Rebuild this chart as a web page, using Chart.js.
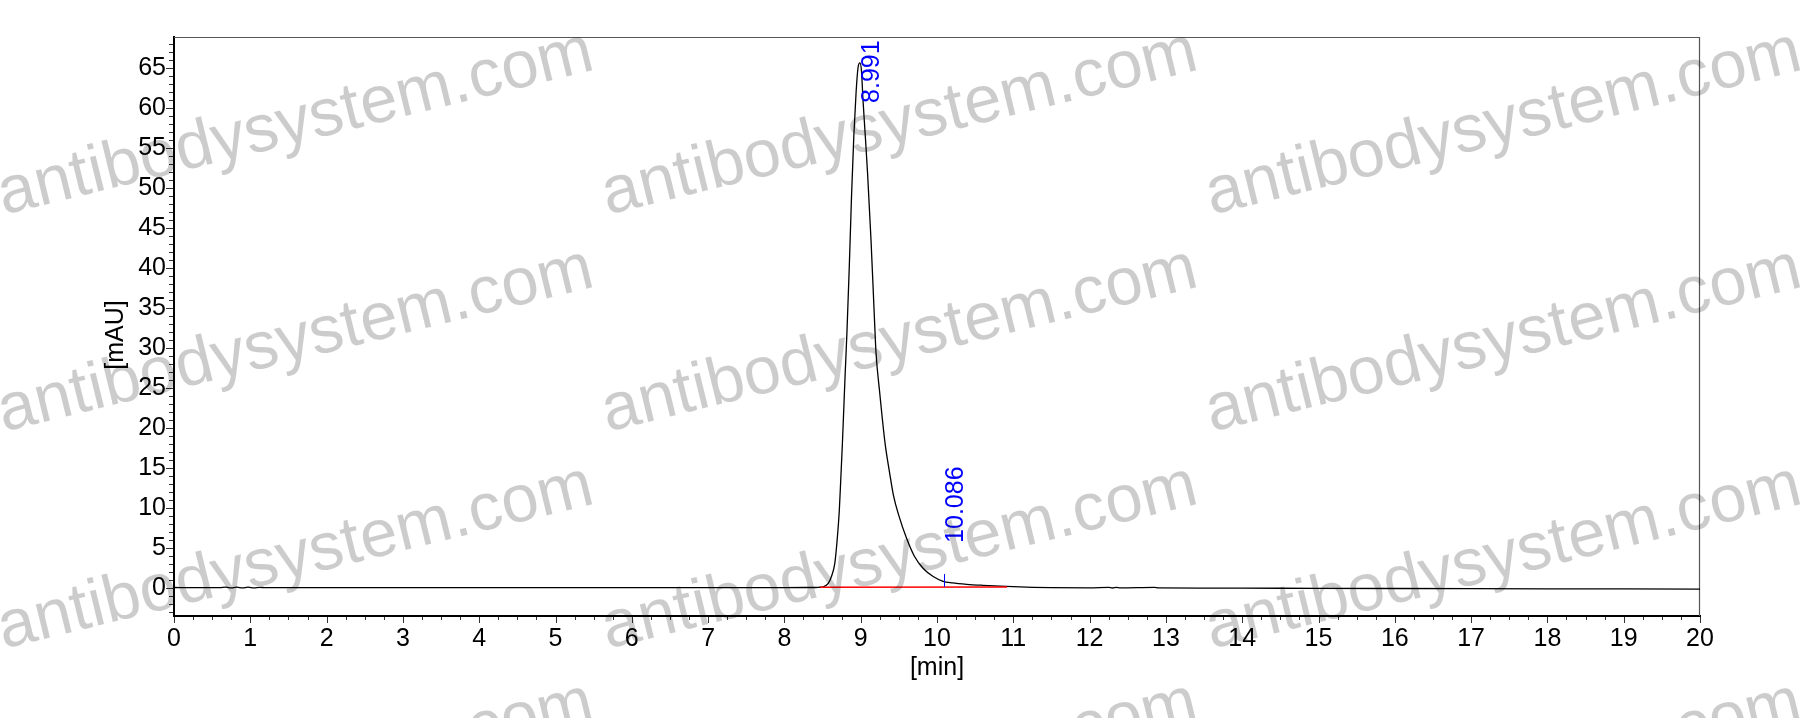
<!DOCTYPE html>
<html>
<head>
<meta charset="utf-8">
<script src="https://cdn.jsdelivr.net/npm/chart.js@4.4.1/dist/chart.umd.min.js"></script>
<style>
  html, body { margin: 0; padding: 0; background: #ffffff; }
  #wrap { width: 1818px; height: 718px; position: relative; }
</style>
</head>
<body>
<div id="wrap"><canvas id="c"></canvas></div>
<script>
// ---------- DATA ----------
const timeMin = [0, 0.3, 0.6, 0.68, 0.75, 0.82, 0.9, 0.97, 1.05, 1.12, 1.2,
  2, 3, 4, 5, 6, 7, 7.5, 8,
  8.3, 8.45, 8.52, 8.575, 8.62, 8.66, 8.69, 8.72, 8.74, 8.76,
  8.795, 8.82, 8.85, 8.88, 8.91, 8.94, 8.965, 8.99,
  9.01, 9.03, 9.06, 9.09, 9.135, 9.174, 9.2, 9.25, 9.32, 9.38, 9.43, 9.5, 9.6, 9.7, 9.82, 9.95,
  10.08, 10.2, 10.39, 10.6, 10.91, 11.26, 11.5,
  12, 12.25, 12.3, 12.35, 12.4, 12.85, 12.9,
  13.5, 14, 15, 16, 17, 18, 19, 20];
const signalMAU = [0.02, 0.0, 0.0, 0.06, -0.03, 0.07, -0.03, 0.06, -0.03, 0.05, 0.0,
  0, 0, 0, 0, 0, 0, 0, 0,
  0.02, 0.05, 0.15, 0.55, 1.5, 3.0, 5.8, 9.7, 13.8, 18.0,
  26.4, 32.0, 40.0, 49.0, 56.5, 62.0, 65.0, 65.6,
  64.6, 61.0, 56.5, 51.8, 43.5, 35.0, 29.5, 24.3, 18.0, 14.3, 11.5, 9.0, 6.2, 4.0, 2.4, 1.4,
  0.8, 0.6, 0.42, 0.3, 0.17, 0.05, 0.0,
  -0.02, 0.03, -0.04, 0.03, -0.03, 0.03, -0.03,
  -0.05, -0.06, -0.08, -0.1, -0.12, -0.14, -0.16, -0.18];

// integration baseline (red)
const baselineTime = [8.47, 10.92];
const baselineMAU = [0.05, 0.1];

// peak annotations
const peakTimes = [8.991, 10.086];
const peakLabels = ['8.991', '10.086'];
const peakLabelStart = [60.6, 5.6];   // mAU where label text begins

// axis ticks
const xMajorTicks = [0,1,2,3,4,5,6,7,8,9,10,11,12,13,14,15,16,17,18,19,20];
const yMajorTicks = [0,5,10,15,20,25,30,35,40,45,50,55,60,65];

const xTitle = '[min]';
const yTitle = '[mAU]';
const watermark = 'antibodysystem.com';

// ---------- CHART ----------
const FONT = "'Liberation Sans', Arial, sans-serif";
Chart.defaults.font.family = FONT;

const toXY = (xs, ys) => xs.map((x, i) => ({x: x, y: ys[i]}));

const decorPlugin = {
  id: 'decor',
  beforeDatasetsDraw(chart) {
    const {ctx, chartArea: a, scales: {x, y}} = chart;
    ctx.save();
    // top & right frame
    ctx.strokeStyle = '#555555';
    ctx.lineWidth = 1.2;
    ctx.beginPath();
    ctx.moveTo(a.left, a.top + 0.5);
    ctx.lineTo(a.right - 0.5, a.top + 0.5);
    ctx.lineTo(a.right - 0.5, a.bottom);
    ctx.stroke();
    // tick marks
    ctx.strokeStyle = '#333333';
    ctx.lineWidth = 1;
    ctx.beginPath();
    for (let v = Math.ceil(y.min); v <= y.max; v++) {
      const py = Math.round(y.getPixelForValue(v)) + 0.5;
      const len = (v % 5 === 0) ? 7 : 4;
      ctx.moveTo(a.left - 1 - len, py);
      ctx.lineTo(a.left - 1, py);
    }
    for (let i = 0; i <= 80; i++) {
      const v = i * 0.25;
      const px = Math.round(x.getPixelForValue(v)) + 0.5;
      const len = (i % 4 === 0) ? 6 : 3;
      ctx.moveTo(px, a.bottom + 1);
      ctx.lineTo(px, a.bottom + 1 + len);
    }
    ctx.stroke();
    ctx.restore();
  },
  afterDatasetsDraw(chart) {
    const {ctx, scales: {x, y}} = chart;
    ctx.save();
    // retention time marker
    ctx.strokeStyle = '#0000ff';
    ctx.lineWidth = 1;
    const mx = Math.round(x.getPixelForValue(peakTimes[1])) + 0.5;
    ctx.beginPath();
    ctx.moveTo(mx, y.getPixelForValue(0.1));
    ctx.lineTo(mx, y.getPixelForValue(1.7));
    ctx.stroke();
    // peak labels
    ctx.fillStyle = '#0000ff';
    ctx.font = '25px ' + FONT;
    ctx.textAlign = 'left';
    ctx.textBaseline = 'top';
    peakTimes.forEach((t, i) => {
      ctx.save();
      ctx.translate(x.getPixelForValue(t), y.getPixelForValue(peakLabelStart[i]));
      ctx.rotate(-Math.PI / 2);
      ctx.fillText(peakLabels[i], 0, 0);
      ctx.restore();
    });
    ctx.restore();
  },
  afterDraw(chart) {
    const {ctx} = chart;
    ctx.save();
    // y-axis title
    ctx.fillStyle = '#000000';
    ctx.font = '25px ' + FONT;
    ctx.textAlign = 'center';
    ctx.textBaseline = 'middle';
    ctx.translate(116, 335);
    ctx.rotate(-Math.PI / 2);
    ctx.fillText(yTitle, 0, 0);
    ctx.restore();
    // watermarks
    ctx.save();
    ctx.fillStyle = 'rgba(0,0,0,0.2)';
    ctx.font = '67px ' + FONT;
    ctx.textAlign = 'center';
    ctx.textBaseline = 'alphabetic';
    const cols = [300, 904, 1508];
    const rows = [142, 359, 576, 793];
    cols.forEach(cx => rows.forEach(cy => {
      ctx.save();
      ctx.translate(cx, cy);
      ctx.rotate(-13.8 * Math.PI / 180);
      ctx.fillText(watermark, 0, 0);
      ctx.restore();
    }));
    ctx.restore();
  }
};

new Chart(document.getElementById('c'), {
  type: 'line',
  data: {
    datasets: [
      {
        label: 'baseline',
        data: toXY(baselineTime, baselineMAU),
        borderColor: '#ff0000',
        borderWidth: 1.5,
        pointRadius: 0,
        order: 0
      },
      {
        label: 'signal',
        data: toXY(timeMin, signalMAU),
        borderColor: '#000000',
        borderWidth: 1.3,
        pointRadius: 0,
        cubicInterpolationMode: 'monotone',
        order: 1
      }
    ]
  },
  options: {
    responsive: true,
    maintainAspectRatio: false,
    devicePixelRatio: 1,
    animation: false,
    layout: { padding: { top: 37, right: 118, left: 0, bottom: 0 } },
    plugins: { legend: { display: false }, tooltip: { enabled: false } },
    scales: {
      x: {
        type: 'linear',
        min: 0, max: 20,
        afterFit(s) { s.height = 102; },
        afterBuildTicks(s) { s.ticks = xMajorTicks.map(v => ({value: v})); },
        grid: { display: false, drawTicks: false },
        border: { display: true, color: '#000000', width: 2 },
        ticks: { color: '#000000', font: { size: 25 }, padding: 8, maxRotation: 0, autoSkip: false },
        title: { display: true, text: xTitle, color: '#000000', font: { size: 25 }, padding: { top: 0, bottom: 35 } }
      },
      y: {
        type: 'linear',
        min: -3.54, max: 68.84,
        afterFit(s) { s.width = 174; },
        afterBuildTicks(s) { s.ticks = yMajorTicks.map(v => ({value: v})); },
        grid: { display: false, drawTicks: false },
        border: { display: true, color: '#000000', width: 2 },
        ticks: { color: '#000000', font: { size: 25 }, padding: 8, autoSkip: false }
      }
    }
  },
  plugins: [decorPlugin]
});
</script>
</body>
</html>
